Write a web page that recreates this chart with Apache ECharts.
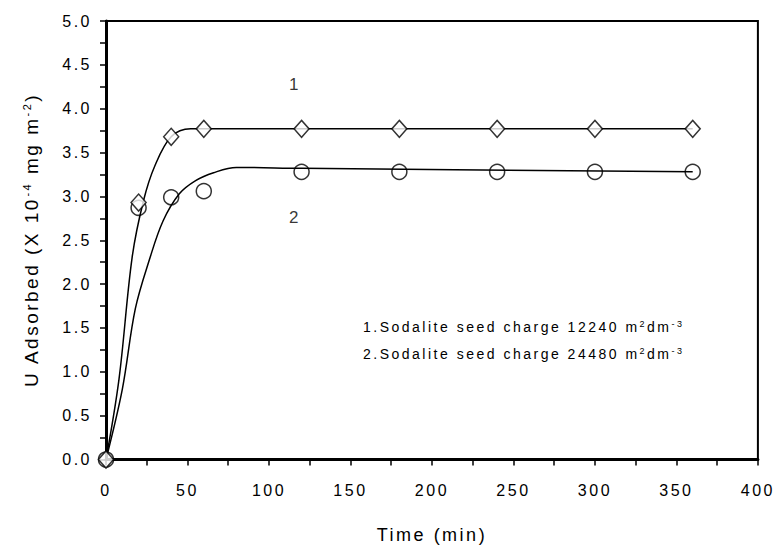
<!DOCTYPE html>
<html>
<head>
<meta charset="utf-8">
<script src="https://cdn.jsdelivr.net/npm/echarts@6/dist/echarts.min.js"></script>
<style>
  html, body { margin: 0; padding: 0; background: #fff; }
  #chart { width: 778px; height: 550px; }
  /* the figure's lettering is widely spaced */
  #chart text { letter-spacing: 2.5px; }
</style>
</head>
<body>
<div id="chart"></div>
<script>
// measured points
var timeMin = [0, 20, 40, 60, 120, 180, 240, 300, 360];
var seed12240 = [0, 2.93, 3.68, 3.77, 3.77, 3.77, 3.77, 3.77, 3.77];
var seed24480 = [0, 2.87, 2.99, 3.06, 3.28, 3.28, 3.28, 3.28, 3.28];

// fitted curves
var fitTime1 = [0, 8, 16, 23, 30, 40, 52, 70, 360];
var fitU1 = [0, 0.92, 2.3, 2.95, 3.35, 3.68, 3.77, 3.77, 3.77];
var fitTime2 = [0, 10, 18, 27, 35, 45, 55, 66, 80, 120, 360];
var fitU2 = [0, 0.8, 1.72, 2.3, 2.72, 3.03, 3.18, 3.27, 3.33, 3.32, 3.28];

// curve numbers placed beside the lines
var curveNames = ['1', '2'];
var curveNameTime = [116, 116];
var curveNameU = [4.28, 2.76];

var xTicks = { min: 0, max: 400, interval: 50 };
var yTicks = { min: 0, max: 5, interval: 0.5 };

var FONT = 'Liberation Sans, Arial, sans-serif';
var SPACING = '2.5px';

// keep text measuring in step with the css letter spacing
var measureCtx = document.createElement('canvas').getContext('2d');
echarts.setPlatformAPI({
  measureText: function (text, font) {
    measureCtx.font = font;
    measureCtx.letterSpacing = SPACING;
    return measureCtx.measureText(text);
  }
});

function pairs(xs, ys) {
  return xs.map(function (x, i) { return [x, ys[i]]; });
}

var chart = echarts.init(document.getElementById('chart'), null, { renderer: 'svg' });

var axisCommon = {
  type: 'value',
  axisLine: { show: true, onZero: false, lineStyle: { color: '#000', width: 3 } },
  axisTick: { show: true, inside: false, length: 6, lineStyle: { color: '#000', width: 1.5 } },
  minorTick: { show: true, splitNumber: 2, length: 6, lineStyle: { color: '#000', width: 1.5 } },
  splitLine: { show: false },
  minorSplitLine: { show: false }
};

var option = {
  backgroundColor: '#fff',
  animation: false,
  grid: {
    left: 106, right: 19, top: 21, bottom: 84,
    show: true, borderColor: '#000', borderWidth: 2
  },
  xAxis: Object.assign({}, axisCommon, {
    min: xTicks.min, max: xTicks.max, interval: xTicks.interval,
    axisLabel: { color: '#000', fontSize: 16, fontFamily: FONT, margin: 22 },
    name: 'Time (min)',
    nameLocation: 'middle',
    nameGap: 65,
    nameTextStyle: { color: '#000', fontSize: 18, fontFamily: FONT }
  }),
  yAxis: Object.assign({}, axisCommon, {
    min: yTicks.min, max: yTicks.max, interval: yTicks.interval,
    axisLabel: {
      color: '#000', fontSize: 16, fontFamily: FONT, margin: 14,
      formatter: function (v) { return v.toFixed(1); }
    },
    name: '{n|U Adsorbed (X 10}{s|-4}{n| mg m}{s|-2}{n|)}',
    nameLocation: 'middle',
    nameRotate: 90,
    nameGap: 64,
    nameTextStyle: {
      color: '#000', fontFamily: FONT,
      rich: {
        n: { fontSize: 19, fontFamily: FONT, color: '#000', lineHeight: 22 },
        s: { fontSize: 11, fontFamily: FONT, color: '#000', lineHeight: 14, verticalAlign: 'middle', padding: [0, 0, 8, 0] }
      }
    }
  }),
  graphic: [{
    type: 'text',
    left: 363,
    top: 318,
    style: {
      text: '{n|1.Sodalite seed charge 12240 m}{s|2}{n|dm}{s|-3}\n{n|2.Sodalite seed charge 24480 m}{s|2}{n|dm}{s|-3}',
      fill: '#000',
      font: '14px ' + FONT,
      rich: {
        n: { fontSize: 14, fontFamily: FONT, fill: '#000', lineHeight: 27 },
        s: { fontSize: 9, fontFamily: FONT, fill: '#000', lineHeight: 12, verticalAlign: 'middle', padding: [0, 0, 6, 0] }
      }
    }
  }],
  series: [
    {
      name: 'fit 1', type: 'line', data: pairs(fitTime1, fitU1),
      showSymbol: false, smooth: 0.35,
      lineStyle: { color: '#000', width: 1.5 }, z: 2
    },
    {
      name: 'fit 2', type: 'line', data: pairs(fitTime2, fitU2),
      showSymbol: false, smooth: 0.35,
      lineStyle: { color: '#000', width: 1.5 }, z: 2
    },
    {
      name: '12240', type: 'scatter', data: pairs(timeMin, seed12240),
      symbol: 'diamond', symbolSize: [15, 17],
      itemStyle: { color: '#fff', borderColor: '#000', borderWidth: 1.5 }, z: 4
    },
    {
      name: '24480', type: 'scatter', data: pairs(timeMin, seed24480),
      symbol: 'circle', symbolSize: 15,
      itemStyle: { color: 'rgba(0,0,0,0)', borderColor: '#000', borderWidth: 1.5 }, z: 3
    },
    {
      name: 'curve labels', type: 'scatter',
      data: curveNames.map(function (n, i) { return [curveNameTime[i], curveNameU[i], n]; }),
      symbolSize: 0, silent: true,
      label: {
        show: true, position: 'inside', color: '#000', fontSize: 17, fontFamily: FONT,
        formatter: function (p) { return p.value[2]; }
      }
    }
  ]
};

chart.setOption(option);
</script>
</body>
</html>
